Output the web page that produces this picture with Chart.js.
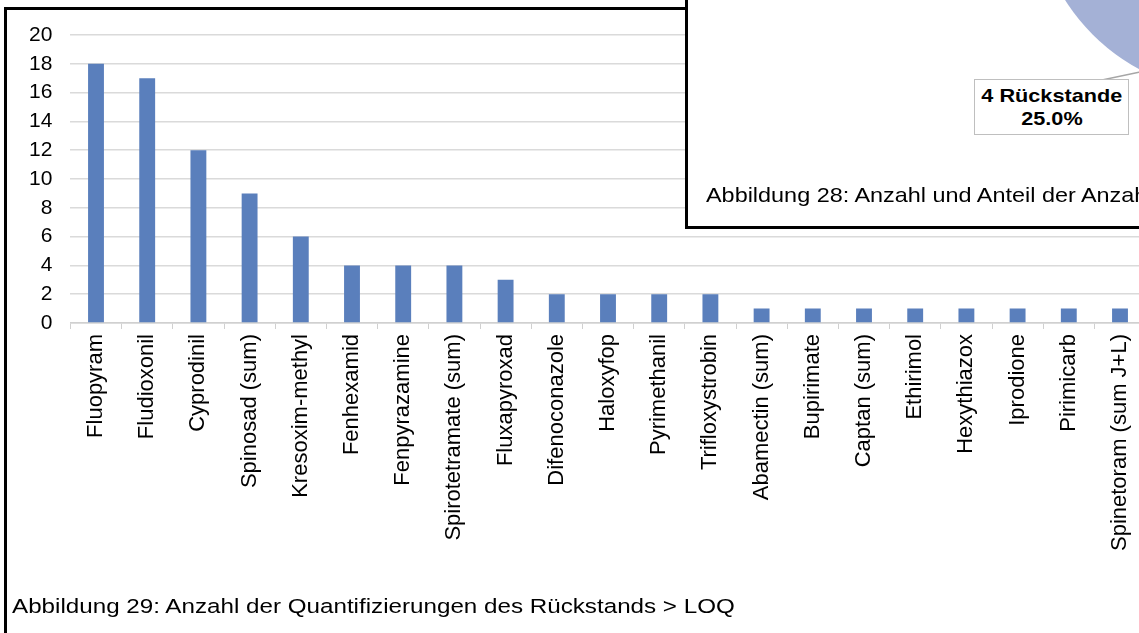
<!DOCTYPE html>
<html>
<head>
<meta charset="utf-8">
<script src="https://cdn.jsdelivr.net/npm/chart.js@4"></script>
<style>
  html, body { margin: 0; padding: 0; width: 1139px; height: 633px; overflow: hidden; background: #fff; font-family: "Liberation Sans", Arial, sans-serif; }
  #frame { position: absolute; left: 4px; top: 7px; width: 1200px; height: 700px; border-left: 3px solid #000; border-top: 3px solid #000; }
  #myChart { position: absolute; left: 0; top: 0; }
  #caption29 { position: absolute; left: 12px; top: 594px; font-size: 20.5px; color: #000; white-space: nowrap; transform: scaleX(1.18); transform-origin: left center; }
  #overlay { position: absolute; left: 685px; top: -3px; width: 500px; height: 226px; border: 3px solid #000; background: #fff; overflow: hidden; }
  #pieChart { position: absolute; left: 346px; top: -307px; }
  #pieLabel { position: absolute; left: 286px; top: 79px; width: 155px; height: 56px; border: 1px solid #bfbfbf; background: #fff; font-weight: bold; font-size: 19px; text-align: center; line-height: 23px; padding-top: 4px; box-sizing: border-box; }
  #pieLabel span { display: inline-block; transform: scaleX(1.14); }
  #leader { position: absolute; left: 0; top: 0; }
  #caption28 { position: absolute; left: 18px; top: 183px; font-size: 21px; white-space: nowrap; transform: scaleX(1.115); transform-origin: left center; }
</style>
</head>
<body>
<div id="frame"></div>
<canvas id="myChart" width="1160" height="633"></canvas>
<div id="caption29">Abbildung 29: Anzahl der Quantifizierungen des Rückstands &gt; LOQ</div>

<div id="overlay">
  <canvas id="pieChart" width="400" height="400"></canvas>
  <svg id="leader" width="500" height="226"><line x1="414" y1="80" x2="452" y2="72" stroke="#a6a6a6" stroke-width="1.5"/></svg>
  <div id="pieLabel"><span>4 Rückstande</span><br><span>25.0%</span></div>
  <div id="caption28">Abbildung 28: Anzahl und Anteil der Anzahl der Rückstände</div>
</div>

<script>
// Daten (Abbildung 29)
const categories = [
  "Fluopyram", "Fludioxonil", "Cyprodinil", "Spinosad (sum)", "Kresoxim-methyl",
  "Fenhexamid", "Fenpyrazamine", "Spirotetramate (sum)", "Fluxapyroxad", "Difenoconazole",
  "Haloxyfop", "Pyrimethanil", "Trifloxystrobin", "Abamectin (sum)", "Bupirimate",
  "Captan (sum)", "Ethirimol", "Hexythiazox", "Iprodione", "Pirimicarb", "Spinetoram (sum J+L)"
];
const counts = [18, 17, 12, 9, 6, 4, 4, 4, 3, 2, 2, 2, 2, 1, 1, 1, 1, 1, 1, 1, 1];
const yMin = 0;
const yMax = 20;
const yStep = 2;

// Ausschnitt der Abbildung 28 (Kreisdiagramm)
const pieLabels = ["4 Rückstande", "andere"];
const pieShares = [25, 75];

const font = "'Liberation Sans', Arial, sans-serif";

const ctx = document.getElementById("myChart").getContext("2d");
new Chart(ctx, {
  type: "bar",
  data: {
    labels: categories,
    datasets: [{
      data: counts,
      backgroundColor: "#5a7fbc",
      borderWidth: 0,
      categoryPercentage: 1,
      barPercentage: 0.31
    }]
  },
  options: {
    responsive: false,
    animation: false,
    layout: { padding: { top: 35, right: 14.4, left: 0, bottom: 0 } },
    plugins: { legend: { display: false }, tooltip: { enabled: false } },
    scales: {
      x: {
        afterFit: function (scale) { scale.height = 310; },
        grid: { display: true, drawOnChartArea: false, tickLength: 6, color: "#d0d0d0" },
        border: { display: true, color: "#d0d0d0", width: 1.5 },
        ticks: {
          color: "#000",
          font: { family: font, size: 22 },
          minRotation: 90,
          maxRotation: 90,
          autoSkip: false,
          padding: 5
        }
      },
      y: {
        min: yMin,
        max: yMax,
        afterFit: function (scale) { scale.width = 70.4; },
        grid: { color: "#dadada", lineWidth: 1.5, drawTicks: false },
        border: { display: false },
        ticks: {
          stepSize: yStep,
          color: "#000",
          font: { family: font, size: 21 },
          padding: 18
        }
      }
    }
  }
});

const pieCtx = document.getElementById("pieChart").getContext("2d");
new Chart(pieCtx, {
  type: "pie",
  data: {
    labels: pieLabels,
    datasets: [{
      data: pieShares,
      backgroundColor: ["#a4b1d6", "#6f8cc4"],
      borderWidth: 0
    }]
  },
  options: {
    responsive: false,
    animation: false,
    rotation: 180,
    plugins: { legend: { display: false }, tooltip: { enabled: false } }
  }
});
</script>
</body>
</html>
